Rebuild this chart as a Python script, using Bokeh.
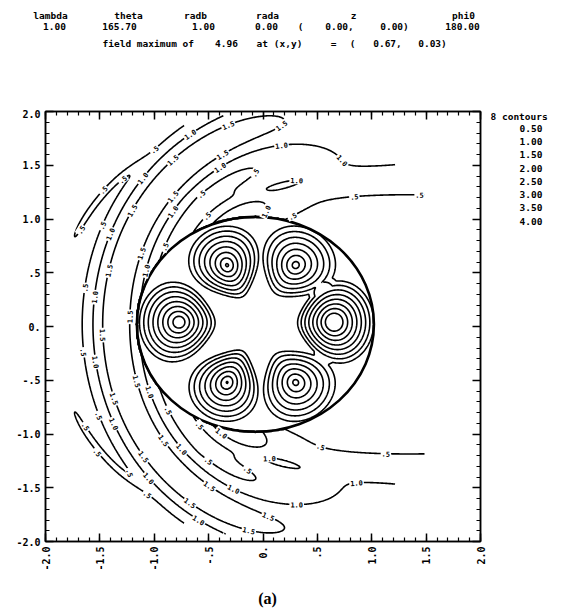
import numpy as np
from bokeh.plotting import figure
from bokeh.layouts import column, row
from bokeh.models import Range1d, LinearAxis, FixedTicker
from bokeh.core.properties import value
from bokeh.embed import file_html
from bokeh.resources import INLINE

# ---------------- values ----------------
header_names = ["lambda", "theta", "radb", "rada", "z", "phi0"]
header_values = ["1.00", "165.70", "1.00", "0.00", "(", "0.00,", "0.00)", "180.00"]
field_max = 4.96
field_max_x = 0.67
field_max_y = 0.03

contour_levels = [0.5, 1.0, 1.5, 2.0, 2.5, 3.0, 3.5, 4.0]
legend_title = "8 contours"
legend_labels = ["0.50", "1.00", "1.50", "2.00", "2.50", "3.00", "3.50", "4.00"]

tick_values = [-2.0, -1.5, -1.0, -0.5, 0.0, 0.5, 1.0, 1.5, 2.0]
x_tick_labels = ["-2.0", "-1.5", "-1.0", "-.5", "0.", ".5", "1.0", "1.5", "2.0"]
y_tick_labels = ["-2.0", "-1.5", "-1.0", "-.5", "0.", ".5", "1.0", "1.5", "2.0"]
minor_tick_values = [round(-2.0 + 0.1 * i, 1) for i in range(41)]

# six intensity lobes inside the cylinder (centre x, centre y, peak)
lobe_x = [0.65, 0.30, -0.33, -0.77, -0.33, 0.30]
lobe_y = [0.04, 0.57, 0.57, 0.04, -0.52, -0.52]
lobe_peak = [4.96, 3.8, 4.15, 4.6, 4.1, 3.75]

# cylinder outline as drawn (slightly wider than tall on the plotter)
cyl_cx, cyl_cy = -0.07, 0.02
cyl_rx, cyl_ry = 1.09, 1.0
field_radius = 1.97          # field was only computed inside this radius
caption = "(a)"

# ---------------- layout constants ----------------
W, H = 562, 613
HEAD_H = 109
FL, FR = 45, 480                 # frame left / right (canvas px)
MAIN_TOP, MAIN_BOT = 2, 36       # borders of the main figure
FRAME_H = 430
MAIN_W = FR + 10
MAIN_H = MAIN_TOP + FRAME_H + MAIN_BOT
CAP_H = H - HEAD_H - MAIN_H
MONO = "DejaVu Sans Mono"

# ---------------- field model on a grid ----------------
n = 401
gx = np.linspace(-2, 2, n)
gy = np.linspace(-2, 2, n)
X, Y = np.meshgrid(gx, gy)
DX, DY = X - cyl_cx, Y - cyl_cy
RR = np.hypot(DX, DY)
TH = np.arctan2(DY, DX)
PH = np.abs(TH)
DEG = np.degrees(PH)
ELL = np.hypot(DX / cyl_rx, DY / cyl_ry)

inside = np.zeros_like(X)
for lx, ly, pk in zip(lobe_x, lobe_y, lobe_peak):
    rho_i = np.hypot(lx - cyl_cx, ly - cyl_cy)
    th_i = np.arctan2(ly - cyl_cy, lx - cyl_cx)
    dth = np.angle(np.exp(1j * (TH - th_i)))
    dr = RR - rho_i
    wr = np.where(dr > 0, 0.40, 0.36)
    d = np.sqrt((dr / wr) ** 2 + (dth / 0.54) ** 2)
    inside += pk * np.clip(1 - d, 0, None) ** 0.9

band_r = 1.28 + 0.55 * (1 + np.cos(PH))
amp = 0.75 / (1 + np.exp(-(DEG - 80) / 8))
t = np.clip(2 * np.pi * (RR - band_r) / 0.8, None, np.pi)
crescent = amp * np.cos(t)
rim = 0.3 * np.exp(-((RR - 1.85) / 0.035) ** 2) * np.exp(-((DEG - 140) / 16) ** 4)
fwd = 1 / (1 + np.exp(-(DX + 0.1) / 0.15))
xp = np.clip(DX, 0, None)
yc = 1.22 + 0.08 * xp
sw = 0.02 + 0.045 * xp
g = 1 / (1 + np.exp(np.clip((np.abs(DY) - yc) / sw, -50, 50)))
outside = 1.08 + crescent + rim - 0.7 * fwd * g

Z = np.where(ELL <= 1.0, inside, outside)
Z = np.where(RR > field_radius, np.nan, Z)


# ---------------- helpers ----------------
def text_fig(w, h):
    f = figure(width=w, height=h, x_range=Range1d(0, w), y_range=Range1d(h, 0),
               output_backend="svg", toolbar_location=None, min_border=0,
               x_axis_location=None, y_axis_location=None)
    f.grid.visible = False
    f.outline_line_color = None
    return f


def put(f, xs, ys, texts, align="center", size="9.5px", font=MONO, style="bold"):
    f.text(x=xs, y=ys, text=texts, text_align=align, text_baseline="middle",
           text_font=value(font), text_font_style=style, text_font_size=size,
           text_color="black")


# ---------------- header figure ----------------
head = text_fig(W, HEAD_H)
put(head, [50, 128, 195, 267, 353, 463], [15] * 6, header_names)
put(head, [54, 119, 203, 266, 300, 339, 394, 462], [26] * 8, header_values)
put(head, [102], [43], ["field maximum of"], align="left")
put(head, [226, 279, 333, 352, 387, 432], [43] * 6,
    [f"{field_max:.2f}", "at (x,y)", "=", "(", f"{field_max_x:.2f},", f"{field_max_y:.2f})"])

# ---------------- main figure ----------------
p = figure(width=MAIN_W, height=MAIN_H, x_range=Range1d(-2, 2), y_range=Range1d(-2, 2),
           output_backend="svg", toolbar_location=None,
           min_border_left=FL, min_border_right=MAIN_W - FR,
           min_border_top=MAIN_TOP, min_border_bottom=MAIN_BOT)
p.grid.visible = False
p.outline_line_color = "black"
p.outline_line_width = 1.5

ticker = FixedTicker(ticks=tick_values, minor_ticks=minor_tick_values)


def style_axis(ax, labels):
    ax.ticker = ticker
    ax.major_tick_in = 8
    ax.major_tick_out = 0
    ax.minor_tick_in = 4
    ax.minor_tick_out = 0
    ax.axis_line_width = 1.5
    ax.major_tick_line_width = 1.5
    ax.minor_tick_line_width = 1.2
    if labels is None:
        ax.major_label_text_font_size = "0px"
        ax.major_label_standoff = 0
        ax.major_label_text_alpha = 0
    else:
        ax.major_label_overrides = {v: t for v, t in zip(tick_values, labels)}
        ax.major_label_text_font = MONO
        ax.major_label_text_font_style = "bold"
        ax.major_label_text_font_size = "10px"
        ax.major_label_text_color = "black"
        ax.major_label_standoff = 5


style_axis(p.xaxis[0], x_tick_labels)
p.xaxis[0].major_label_orientation = np.pi / 2
style_axis(p.yaxis[0], y_tick_labels)
right_ax = LinearAxis()
style_axis(right_ax, None)
top_ax = LinearAxis()
style_axis(top_ax, None)
p.add_layout(right_ax, "right")
p.add_layout(top_ax, "above")

cr = p.contour(gx, gy, Z, levels=contour_levels, line_color="black", line_width=1.6)
p.ellipse(x=[cyl_cx], y=[cyl_cy], width=[2 * cyl_rx], height=[2 * cyl_ry],
          fill_color=None, line_color="black", line_width=2.6)

# small level labels along the outer contour lines
ld = cr.line_renderer.data_source.data
lab_x, lab_y, lab_t, lab_a = [], [], [], []
for lev, xs_, ys_ in zip(contour_levels, ld["xs"], ld["ys"]):
    xs_ = np.asarray(xs_, dtype=float)
    ys_ = np.asarray(ys_, dtype=float)
    acc = 0.25
    for i in range(1, len(xs_)):
        if not (np.isfinite(xs_[i]) and np.isfinite(xs_[i - 1])):
            acc = 0.25
            continue
        ddx, ddy = xs_[i] - xs_[i - 1], ys_[i] - ys_[i - 1]
        acc += np.hypot(ddx, ddy)
        near_cyl = np.hypot((xs_[i] - cyl_cx) / cyl_rx, (ys_[i] - cyl_cy) / cyl_ry) < 1.05
        if acc > 0.6 and not near_cyl:
            ang = np.arctan2(ddy, ddx)
            if ang > np.pi / 2:
                ang -= np.pi
            if ang < -np.pi / 2:
                ang += np.pi
            lab_x.append(xs_[i]); lab_y.append(ys_[i])
            lab_t.append(f"{lev:.1f}".lstrip("0")); lab_a.append(ang)
            acc = 0.0
p.text(x=lab_x, y=lab_y, text=lab_t, angle=lab_a, text_align="center",
       text_baseline="middle", text_font=value(MONO), text_font_style="bold",
       text_font_size="7px", text_color="black",
       background_fill_color="white", padding=1)

# ---------------- legend figure ----------------
leg = text_fig(W - MAIN_W, MAIN_H)
put(leg, [490 - MAIN_W], [114 - HEAD_H], [legend_title], align="left")
put(leg, [542 - MAIN_W] * len(legend_labels),
    [127 - HEAD_H + 14.5 * i for i in range(len(legend_labels))], legend_labels, align="right")

# ---------------- caption figure ----------------
cap = text_fig(W, CAP_H)
put(cap, [267], [598 - HEAD_H - MAIN_H], [caption], size="16px",
    font="Liberation Serif", style="bold")

layout = column(head, row(p, leg, spacing=0), cap, spacing=0)
open("out.html", "w").write(file_html(layout, INLINE))
